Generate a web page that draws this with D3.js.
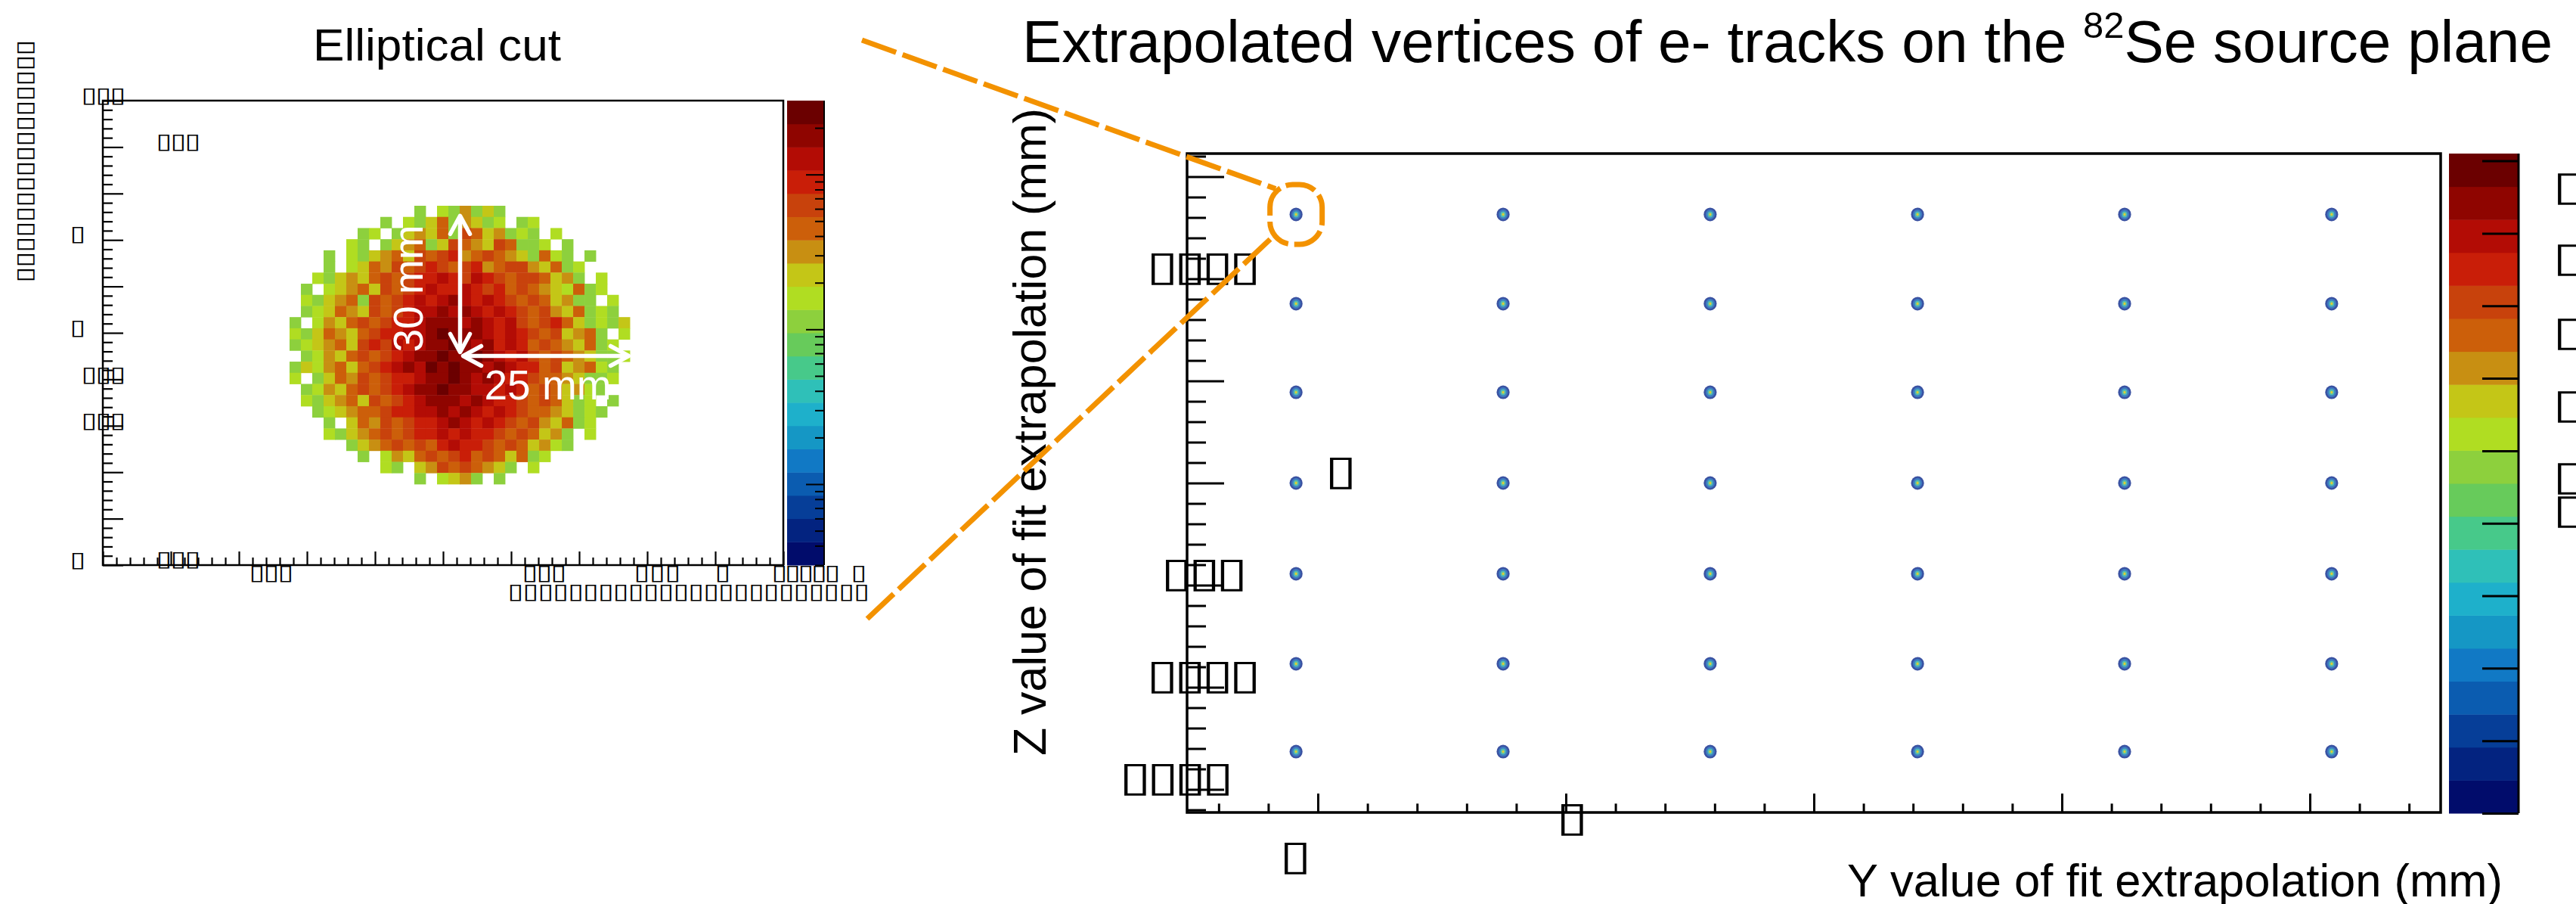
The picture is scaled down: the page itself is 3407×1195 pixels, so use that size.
<!DOCTYPE html>
<html><head><meta charset="utf-8">
<script src="https://cdn.jsdelivr.net/npm/d3@7"></script>
<style>html,body{margin:0;padding:0;background:#fff;} svg{display:block;}</style>
</head><body>
<svg id="c" width="3407" height="1195" xmlns="http://www.w3.org/2000/svg"></svg>
<script>
// ---------------- DATA ----------------
// colour palette of both colour bars, top (max) to bottom (min)
const palette = ["#6b0000","#8f0500","#b30c05","#c91e08","#c8420c","#cc5f0a","#c88f12","#c4c617","#b0dd22","#8dd03d",
                 "#67cb5b","#47c98a","#2fc0b8","#1eb0cb","#1597c5","#1179c5","#0b5cb0","#063e98","#032380","#010c6b"];
// inset histogram: level codes (index = palette index), '.' = empty bin
const histCodes = ["m","D","d","R","r","O","o","y","h","g"];
const histRows = [
"...........g.hgogyg...........",
"........g.hgyOgoygh.gh........",
"......gh.gyoyOgrOyoghg.h......",
".....hg.gyoOgyrOoyrOggh.g.....",
"...g.hgyoOyrOrRoOrOoygOhg.g...",
"...g.hyOorOrRrOrRoOrroyOgh....",
"..hgyoyOrOrRRdRrdRrOrrOyog.h..",
".g.hyoOyrOrRdRRdRrROrOoyhOgh..",
".hgyoOgrOrRdRdDdRdRrOrOyogg.h.",
".ghyOoyrOrRddDdDdRdRrOroyOghg.",
"g.hoyOrOrRRdDDDdDdRdrOrROyghgy",
"hgyOoyOrRRddDmDDDdRdRrOryoOg.h",
"ghyoOyrRrdRdDDmDdDRdROrOoyOgh.",
".ghoyOrOrRdDDmDDmDdRdrOrOoyggh",
"gyhoOyOrRdDdmDmDDdDdRROryoOhg.",
"h.gyOorOrRRdDDmDdDdRRrOOoyggh.",
".ghoyOrOrRdDDmDDddRdROrOyohg..",
".hgyoOyrOrRdDDDdDdRRrOrOygh.g.",
"..ghyoOOrRRddDdDdRdRrOOoyghg..",
"...g.yOorOrRRdDdRdRrOroyOgh...",
"...hgyoOrOrRRdRdRRrOrOyog.h...",
".....gyoOrOrORdRRrOrOyohg.....",
"......g.hoyOrOrROrOyOgh.......",
"........hg.yorOrOoyg.h........",
"...........g.hyog.g..........."
];
// inset bin geometry in mm (x, y of upper-left bin corner, bin widths)
const histX0 = 27.44, histDX = 1.667, histY0 = 77.36, histDY = 2.397;
// inset axes (mm)
const insetDomain = [0, 100];
// elliptical-cut annotation (mm): centre and semi-axes
const cutCentre = [52.5, 45.2], cutSemiY = 25, cutSemiZ = 30;
// inset colour-bar (log) range and ticks
const insetCbarDomain = [0.3, 300];
const insetCbarMajor = [1, 10, 100];
const insetCbarMinor = [0.3,0.4,0.5,0.6,0.7,0.8,0.9,2,3,4,5,6,7,8,9,20,30,40,50,60,70,80,90,200];
// main plot: calibration-source vertex positions (mm)
const vertexY = [-2088, -1253, -418, 418, 1253, 2088];
const vertexZ = [1315, 878, 444, 0, -444, -885, -1315];
const mainYDomain = [-2527.5, 2527.5];
const mainZDomain = [-1613, 1613];
const mainYMajor = [-2000, -1000, 0, 1000, 2000];
const mainYMinor = d3.range(-2400, 2401, 200);
const mainZMajor = [-1500, -1000, -500, 0, 500, 1000, 1500];
const mainZMinor = d3.range(-1600, 1601, 100);
const mainCbarDomain = [0, 9.1];
const mainCbarTicks = [0,1,2,3,4,5,6,7,8,9];

// ---------------- HELPERS ----------------
const svg = d3.select("#c");
const FONT = '"Liberation Sans", Arial, Helvetica, sans-serif';
const TOFU = "\u25AF";
const TOFU_FONT = '"DejaVu Sans"';
const cx = document.createElement("canvas").getContext("2d");
cx.font = '100px "DejaVu Sans"';
const tmm = cx.measureText(TOFU);
const TM = {asc: tmm.actualBoundingBoxAscent, desc: tmm.actualBoundingBoxDescent,
            l: tmm.actualBoundingBoxLeft, r: tmm.actualBoundingBoxRight, adv: tmm.width};
// draws a run of n placeholder boxes: ink left x0, ink top y0, ink height h, ink width w, advance adv
function tofu(parent, n, x0, y0, h, w, adv, rot) {
  const s = h / (TM.asc + TM.desc);
  const fs = 100 * s;
  const kx = w / ((TM.l + TM.r) * s);
  const ls = adv / kx - TM.adv * s;
  const tr = rot ? `translate(${x0},${y0}) rotate(-90) scale(${kx},1)` : `translate(${x0},${y0}) scale(${kx},1)`;
  parent.append("text").attr("transform", tr).attr("x", TM.l * s).attr("y", TM.asc * s)
    .style("font-family", TOFU_FONT).style("font-size", fs + "px").style("letter-spacing", ls + "px")
    .attr("fill", "#000").text(TOFU.repeat(n));
}
function ticks(g, axisFn, scale, values, size, width) {
  const a = g.append("g").call(axisFn(scale).tickValues(values).tickSize(size).tickFormat(""));
  a.select(".domain").remove();
  a.selectAll("line").attr("stroke", "#000").attr("stroke-width", width);
  return a;
}

// ---------------- INSET (left) ----------------
const L = svg.append("g");
const xL = d3.scaleLinear(insetDomain, [136, 1036]);
const yL = d3.scaleLinear(insetDomain, [747, 133]);
const histColor = d3.scaleOrdinal().domain(histCodes).range(palette.slice(0, 10));

const cells = [];
histRows.forEach((row, r) => row.split("").forEach((ch, c) => { if (ch !== ".") cells.push({r, c, ch}); }));
L.append("g").selectAll("rect").data(cells).join("rect")
  .attr("x", d => xL(histX0 + d.c * histDX))
  .attr("y", d => yL(histY0 - d.r * histDY))
  .attr("width", xL(histDX) - xL(0) + 0.4)
  .attr("height", yL(0) - yL(histDY) + 0.4)
  .attr("fill", d => histColor(d.ch));

// axes ticks of inset
const gLy = L.append("g").attr("transform", `translate(${xL(0)},0)`);
ticks(gLy, d3.axisRight, yL, d3.range(0, 101, 2).filter(v => v % 10), 13, 2.2);
ticks(gLy, d3.axisRight, yL, d3.range(0, 101, 10), 27, 2.2);
const gLx = L.append("g").attr("transform", `translate(0,${yL(0)})`);
ticks(gLx, d3.axisTop, xL, d3.range(0, 101, 2).filter(v => v % 10), 10, 2.2);
ticks(gLx, d3.axisTop, xL, d3.range(0, 101, 10), 18, 2.2);
// frame
L.append("rect").attr("x", xL(0)).attr("y", yL(100)).attr("width", xL(100) - xL(0)).attr("height", yL(0) - yL(100))
  .attr("fill", "none").attr("stroke", "#000").attr("stroke-width", 2.5);

// inset colour bar
const yLC = d3.scaleLog(insetCbarDomain, [747, 133]);
const lcb = L.append("g");
const lb = d3.range(21).map(k => insetCbarDomain[0] * Math.pow(insetCbarDomain[1] / insetCbarDomain[0], k / 20));
lcb.selectAll("rect").data(d3.range(20)).join("rect")
  .attr("x", 1041).attr("width", 49)
  .attr("y", k => yLC(lb[k + 1])).attr("height", k => yLC(lb[k]) - yLC(lb[k + 1]) + 0.5)
  .attr("fill", k => palette[19 - k]);
const glc = lcb.append("g").attr("transform", "translate(1090,0)");
ticks(glc, d3.axisLeft, yLC, insetCbarMinor, 12, 2);
ticks(glc, d3.axisLeft, yLC, insetCbarMajor, 24, 2);
lcb.append("line").attr("x1", 1090).attr("x2", 1090).attr("y1", 133).attr("y2", 747).attr("stroke", "#000").attr("stroke-width", 2);

// elliptical-cut annotation arrows
function chevron(g, tx, ty, dx, dy) {
  const len = 24, half = 13;
  const bx = tx - dx * len, by = ty - dy * len;
  const p = d3.path();
  p.moveTo(bx - dy * half, by + dx * half); p.lineTo(tx, ty); p.lineTo(bx + dy * half, by - dx * half);
  g.append("path").attr("d", p.toString()).attr("fill", "none").attr("stroke", "#fff")
    .attr("stroke-width", 5.5).attr("stroke-linecap", "round").attr("stroke-linejoin", "round");
}
const ann = L.append("g");
const ox = xL(cutCentre[0]), oy = yL(cutCentre[1]);
const topY = yL(cutCentre[1] + cutSemiZ), rightX = xL(cutCentre[0] + cutSemiY);
ann.append("line").attr("x1", ox).attr("x2", ox).attr("y1", oy - 4).attr("y2", topY + 2).attr("stroke", "#fff").attr("stroke-width", 5.5);
chevron(ann, ox, topY, 0, -1);
chevron(ann, ox, oy - 4, 0, 1);
ann.append("line").attr("x1", ox + 4).attr("x2", rightX - 2).attr("y1", oy + 1).attr("y2", oy + 1).attr("stroke", "#fff").attr("stroke-width", 5.5);
chevron(ann, ox + 4, oy + 1, -1, 0);
chevron(ann, rightX - 2, oy + 1, 1, 0);
ann.append("text").attr("transform", `translate(${ox - 50},${oy - 4}) rotate(-90)`)
  .style("font-family", FONT).style("font-size", "55px").attr("fill", "#fff").text("30 mm");
ann.append("text").attr("x", ox + 32).attr("y", oy + 59)
  .style("font-family", FONT).style("font-size", "55px").attr("fill", "#fff").text("25 mm");

// inset title
L.append("text").attr("x", 414).attr("y", 80).attr("textLength", 328).attr("lengthAdjust", "spacingAndGlyphs")
  .style("font-family", FONT).style("font-size", "59.5px").attr("fill", "#000").text("Elliptical cut");

// inset placeholder labels (unrenderable glyphs in the original)
const hL = 22, wL = 14, aL = 19;
[[3,111,117],[3,210,178],[1,96,300],[1,96,424],[3,111,486],[3,111,547],[1,96,731],[3,210,730]]
  .forEach(([n, x, y]) => tofu(L, n, x, y, hL, wL, aL));
tofu(L, 3, 333, 748, hL, wL, aL);
tofu(L, 3, 694, 748, hL, wL, aL);
tofu(L, 3, 842, 748, hL, wL, 20.5);
tofu(L, 1, 949, 748, hL, wL, aL);
tofu(L, 5, 1024, 748, hL, wL, 17.5);
tofu(L, 1, 1129, 748, hL, wL, aL);
tofu(L, 24, 675, 773, hL, wL, 19.9);
tofu(L, 16, 23, 370, 23, 14, 20, true);

// ---------------- MAIN PLOT ----------------
const M = svg.append("g");
const xM = d3.scaleLinear(mainYDomain, [1570, 3228]);
const yM = d3.scaleLinear(mainZDomain, [1074, 203]);

const gMy = M.append("g").attr("transform", `translate(${xM.range()[0]},0)`);
ticks(gMy, d3.axisRight, yM, mainZMinor.filter(v => v % 500), 25, 3);
ticks(gMy, d3.axisRight, yM, mainZMajor, 49, 3);
const gMx = M.append("g").attr("transform", `translate(0,${yM.range()[0]})`);
ticks(gMx, d3.axisTop, xM, mainYMinor.filter(v => v % 1000 && v > mainYDomain[0] && v < mainYDomain[1]), 11.7, 3);
ticks(gMx, d3.axisTop, xM, mainYMajor, 25, 3);
M.append("rect").attr("x", 1570).attr("y", 203).attr("width", 3228 - 1570).attr("height", 1074 - 203)
  .attr("fill", "none").attr("stroke", "#000").attr("stroke-width", 3.5);

// vertices
const pts = [];
vertexZ.forEach(z => vertexY.forEach(y => pts.push({y, z})));
const dots = M.append("g").selectAll("g").data(pts).join("g")
  .attr("transform", d => `translate(${xM(d.y)},${yM(d.z)})`);
dots.append("ellipse").attr("rx", 8.6).attr("ry", 9).attr("fill", "#3a52a2");
dots.append("ellipse").attr("rx", 6).attr("ry", 6.5).attr("fill", "#3e7cc2");
dots.append("ellipse").attr("rx", 3.5).attr("ry", 4).attr("fill", "#52bdb2");
dots.append("ellipse").attr("rx", 1.6).attr("ry", 1.9).attr("fill", "#d9cf3a");

// main colour bar
const yMC = d3.scaleLinear(mainCbarDomain, [1075, 203]);
const mcb = M.append("g");
mcb.selectAll("rect").data(d3.range(20)).join("rect")
  .attr("x", 3239).attr("width", 92)
  .attr("y", k => yMC((k + 1) * mainCbarDomain[1] / 20))
  .attr("height", k => yMC(k * mainCbarDomain[1] / 20) - yMC((k + 1) * mainCbarDomain[1] / 20) + 0.5)
  .attr("fill", k => palette[19 - k]);
const gmc = mcb.append("g").attr("transform", "translate(3331,0)");
ticks(gmc, d3.axisLeft, yMC, mainCbarTicks, 48, 3);
mcb.append("line").attr("x1", 3331).attr("x2", 3331).attr("y1", 203).attr("y2", 1075).attr("stroke", "#000").attr("stroke-width", 3);

// main titles
const title = M.append("text").attr("x", 1352).attr("y", 82).attr("textLength", 2024).attr("lengthAdjust", "spacingAndGlyphs")
  .style("font-family", FONT).style("font-size", "77px").attr("fill", "#000");
title.append("tspan").text("Extrapolated vertices of e- tracks on the ");
title.append("tspan").attr("dy", -32).style("font-size", "48px").text("82");
title.append("tspan").attr("dy", 32).text("Se source plane");
M.append("text").attr("x", 2443).attr("y", 1185).attr("textLength", 867).attr("lengthAdjust", "spacingAndGlyphs")
  .style("font-family", FONT).style("font-size", "62px").attr("fill", "#000").text("Y value of fit extrapolation (mm)");
M.append("text").attr("transform", "translate(1383,999) rotate(-90)").attr("textLength", 856).attr("lengthAdjust", "spacingAndGlyphs")
  .style("font-family", FONT).style("font-size", "62px").attr("fill", "#000").text("Z value of fit extrapolation (mm)");

// main placeholder labels
const hM = 42.3, wM = 28.7, aM = 36.4;
[[4,1523,335],[1,1759,605],[3,1542,740],[4,1523,875],[4,1487,1010],[1,1699,1114],[1,2065,1063]]
  .forEach(([n, x, y]) => tofu(M, n, x, y, hM, wM, aM));
[229, 323, 421, 517, 612, 656].forEach(y => tofu(M, 2, 3383, y, 42, wM, aM));

// ---------------- ZOOM CONNECTORS ----------------
const Z = svg.append("g").attr("fill", "none").attr("stroke", "#f39200").attr("stroke-width", 7);
const hx = xM(vertexY[0]), hy = yM(vertexZ[0]);
Z.append("line").attr("x1", 1140).attr("y1", 53).attr("x2", hx - 27).attr("y2", hy - 34).attr("stroke-dasharray", "48,9");
Z.append("line").attr("x1", 1147).attr("y1", 818).attr("x2", hx - 27).attr("y2", hy + 26).attr("stroke-dasharray", "48,9");
Z.append("rect").attr("x", hx - 34.5).attr("y", hy - 39.5).attr("width", 69).attr("height", 79).attr("rx", 30)
  .attr("stroke-dasharray", "41,8").attr("stroke-dashoffset", 10);
</script>
</body></html>
